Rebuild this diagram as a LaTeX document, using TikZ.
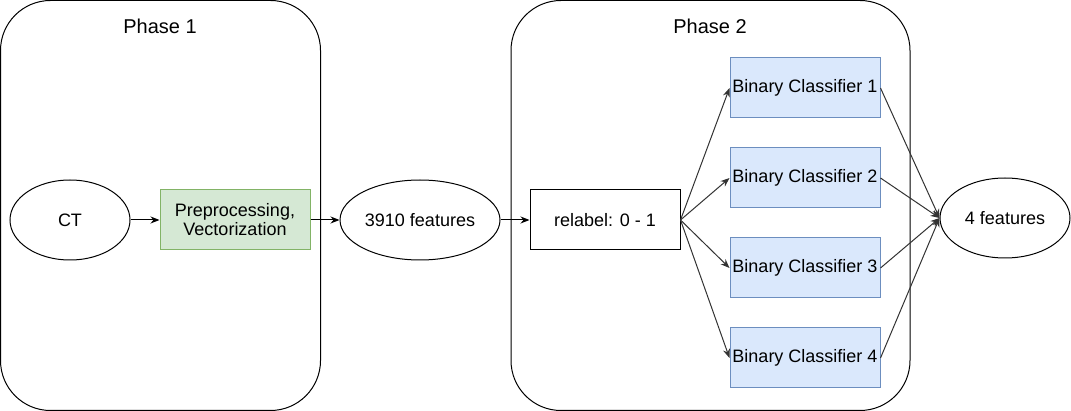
\documentclass[tikz,border=0pt]{standalone}
\usepackage{fontspec}
\setmainfont{Liberation Sans}
\usetikzlibrary{arrows.meta,shapes.geometric}

\definecolor{greenfill}{HTML}{D5E8D4}
\definecolor{greenline}{HTML}{82B366}
\definecolor{bluefill}{HTML}{DAE8FC}
\definecolor{blueline}{HTML}{6C8EBF}
\definecolor{edgegray}{HTML}{333333}

\tikzstyle{phase}=[draw,rounded corners=50pt,minimum width=320pt,minimum height=410pt,line width=1pt]
\tikzstyle{ttl}=[font=\fontsize{20}{24}\selectfont]
\tikzstyle{oval}=[draw,ellipse,minimum height=80pt,inner sep=0pt,line width=1pt,font=\fontsize{18}{21}\selectfont]
\tikzstyle{blk}=[draw,minimum width=150pt,minimum height=60pt,inner sep=0pt,line width=1pt,align=center,font=\fontsize{18}{21}\selectfont]
\tikzstyle{prep}=[blk,fill=greenfill,draw=greenline]
\tikzstyle{clf}=[blk,fill=bluefill,draw=blueline]
\tikzstyle{arr}=[-{Stealth[length=9pt,width=7pt]},line width=1pt]
\tikzstyle{fan}=[arr,color=edgegray]

\begin{document}
\begin{tikzpicture}[x=1pt,y=-1pt]
  \useasboundingbox (0,0) rectangle (1071,411);

  % containers
  \node[phase] (phase1) at (160.5,205.5) {};
  \node[phase,minimum width=399pt] (phase2) at (710.5,205.5) {};
  \node[ttl] (t1) at (160,26) {Phase 1};
  \node[ttl] (t2) at (710,26) {Phase 2};

  \node[oval,minimum width=120pt] (ct) at (70,220) {CT};
  \node[prep] (pre) at (235,220) {Preprocessing,\\[-2pt]Vectorization};
  \node[oval,minimum width=160pt] (feat) at (420,220) {3910 features};
  \node[blk] (relabel) at (605,220) {relabel: 0 - 1};

  \node[clf] (bc1) at (805,88) {Binary Classifier 1};
  \node[clf] (bc2) at (805,178) {Binary Classifier 2};
  \node[clf] (bc3) at (805,268) {Binary Classifier 3};
  \node[clf] (bc4) at (805,358) {Binary Classifier 4};

  \node[oval,minimum width=130pt] (four) at (1005,218) {4 features};

  \path (ct) edge [arr] (pre);
  \path (pre) edge [arr] (feat);
  \path (feat) edge [arr] (relabel);

  \path (relabel.east) edge [fan] (bc1.west);
  \path (relabel.east) edge [fan] (bc2.west);
  \path (relabel.east) edge [fan] (bc3.west);
  \path (relabel.east) edge [fan] (bc4.west);

  \path (bc1.east) edge [fan] (four.west);
  \path (bc2.east) edge [fan] (four.west);
  \path (bc3.east) edge [fan] (four.west);
  \path (bc4.east) edge [fan] (four.west);

\end{tikzpicture}
\end{document}
